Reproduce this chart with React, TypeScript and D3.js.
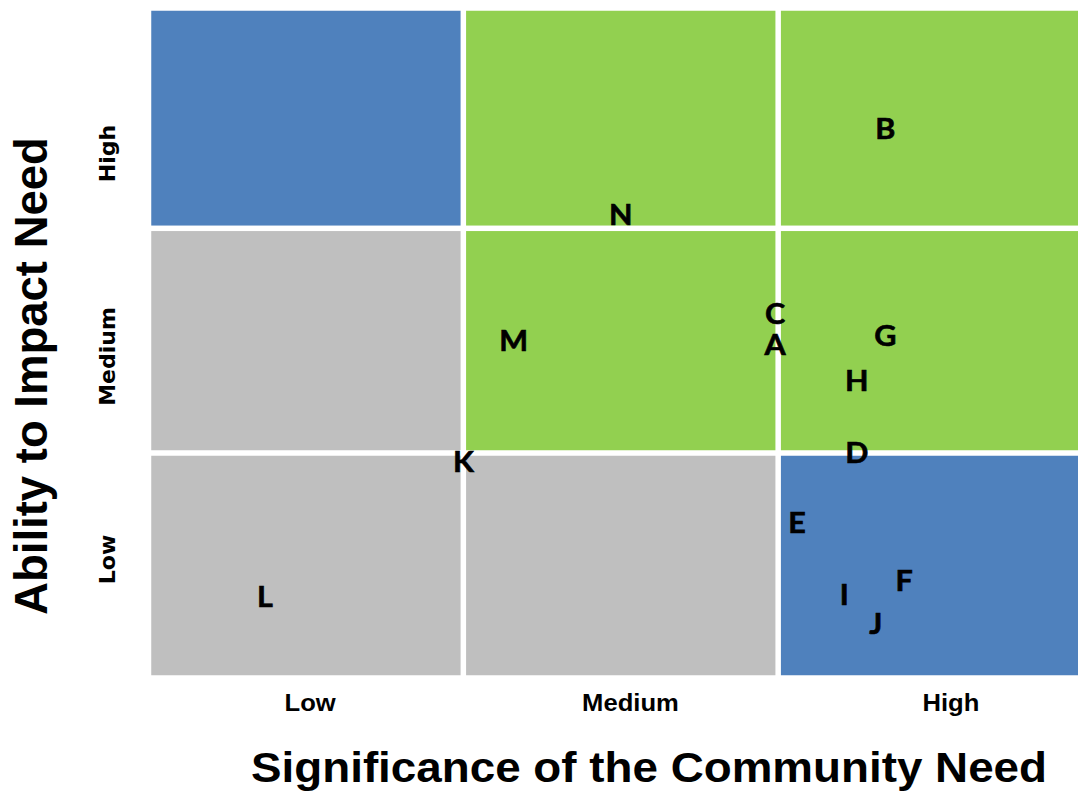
import React, { useRef, useEffect } from 'react';
import * as d3 from 'd3';

// level names, low -> high
const needLevels = ['Low', 'Medium', 'High'];
const impactLevels = ['Low', 'Medium', 'High'];

// zone of each cell: rows = impact (Low..High), cols = need (Low..High)
const zoneRowLow = ['gray', 'gray', 'blue'];
const zoneRowMedium = ['gray', 'green', 'green'];
const zoneRowHigh = ['blue', 'green', 'green'];

// plotted items
const itemLabels = ['A', 'B', 'C', 'D', 'E', 'F', 'G', 'H', 'I', 'J', 'K', 'L', 'M', 'N'];
const needScore = [1.99, 2.34, 1.99, 2.25, 2.06, 2.4, 2.34, 2.25, 2.21, 2.31, 1.0, 0.37, 1.16, 1.5];
const impactScore = [1.48, 2.45, 1.62, 1.0, 0.69, 0.43, 1.52, 1.32, 0.37, 0.24, 0.96, 0.36, 1.5, 2.06];

const zoneColor: Record<string, string> = {
  blue: '#4F81BD',
  green: '#92D050',
  gray: '#BFBFBF',
};

const Matrix = () => {
  const svgRef = useRef<SVGSVGElement | null>(null);

  useEffect(() => {
    const width = 1078;
    const height = 796;
    const stretch = 1.09;
    const gap = 2.75;

    const svg = d3.select(svgRef.current)
      .attr('width', width)
      .attr('height', height);

    svg.selectAll('*').remove();

    const x = d3.scaleLinear().domain([0, 3]).range([148.5, 1093]);
    const y = d3.scaleLinear().domain([0, 1, 2, 3]).range([678, 453, 228.3, 8]);

    // cells
    const rows = [zoneRowLow, zoneRowMedium, zoneRowHigh];
    const cells = rows.flatMap((row, r) => row.map((zone, c) => ({ r, c, zone })));

    svg.append('g')
      .selectAll('rect')
      .data(cells)
      .join('rect')
      .attr('x', d => x(d.c) + gap)
      .attr('y', d => y(d.r + 1) + gap)
      .attr('width', d => x(d.c + 1) - x(d.c) - 2 * gap)
      .attr('height', d => y(d.r) - y(d.r + 1) - 2 * gap)
      .attr('fill', d => zoneColor[d.zone]);

    // item letters
    const items = itemLabels.map((label, i) => ({ label, need: needScore[i], impact: impactScore[i] }));
    svg.append('g')
      .selectAll('text')
      .data(items)
      .join('text')
      .attr('transform', d => `translate(${x(d.need)},${y(d.impact)}) scale(${stretch},1)`)
      .attr('text-anchor', 'middle')
      .attr('dy', '0.36em')
      .attr('font-family', 'Lato, "Open Sans", sans-serif')
      .attr('font-weight', 'bold')
      .attr('font-size', 28)
      .attr('fill', '#000')
      .attr('stroke', '#000')
      .attr('stroke-width', 0.6)
      .text(d => d.label);

    // tick labels
    const xTick = d3.scaleBand().domain(needLevels).range([150, 1111]);
    svg.append('g')
      .selectAll('text')
      .data(needLevels)
      .join('text')
      .attr('transform', d => `translate(${xTick(d)! + xTick.bandwidth() / 2},${703}) scale(${stretch},1)`)
      .attr('text-anchor', 'middle')
      .attr('dy', '0.36em')
      .attr('font-family', '"Liberation Sans", Arial, sans-serif')
      .attr('font-weight', 'bold')
      .attr('font-size', 23.5)
      .text(d => d);

    const yTick = d3.scaleBand().domain(impactLevels.slice().reverse()).range([52, 661]);
    svg.append('g')
      .selectAll('text')
      .data(impactLevels)
      .join('text')
      .attr('transform', d => `translate(${107},${yTick(d)! + yTick.bandwidth() / 2}) rotate(-90)`)
      .attr('text-anchor', 'middle')
      .attr('dy', '0.36em')
      .attr('font-family', '"DejaVu Sans", sans-serif')
      .attr('font-weight', 'bold')
      .attr('font-size', 22)
      .text(d => d);

    // axis titles
    svg.append('text')
      .attr('transform', `translate(649,782) scale(${stretch},1)`)
      .attr('text-anchor', 'middle')
      .attr('font-family', '"Liberation Sans", Arial, sans-serif')
      .attr('font-weight', 'bold')
      .attr('font-size', 42)
      .text('Significance of the Community Need');

    svg.append('text')
      .attr('transform', 'translate(31,376) rotate(-90)')
      .attr('text-anchor', 'middle')
      .attr('dy', '0.36em')
      .attr('font-family', '"Liberation Sans", Arial, sans-serif')
      .attr('font-weight', 'bold')
      .attr('font-size', 45.5)
      .text('Ability to Impact Need');
  }, []);

  return (
    <svg ref={svgRef} style={{ position: 'absolute', left: 0, top: 0, background: '#fff' }}></svg>
  );
};

export default function App() {
  return <Matrix />;
}
